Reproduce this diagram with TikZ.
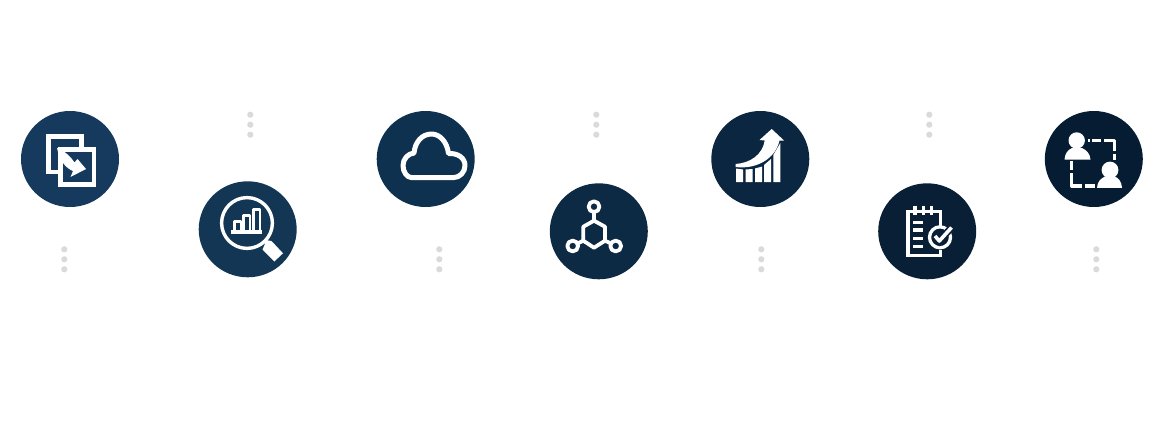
\documentclass[tikz,border=0pt]{standalone}
\usetikzlibrary{shapes.geometric}
\definecolor{navyA}{HTML}{153A5E}
\definecolor{navyB}{HTML}{133655}
\definecolor{navyC}{HTML}{0F3150}
\definecolor{navyD}{HTML}{0D2A45}
\definecolor{navyE}{HTML}{0B2640}
\definecolor{navyF}{HTML}{081F36}
\definecolor{navyG}{HTML}{061C32}
\definecolor{dotgray}{HTML}{DADADA}
\tikzset{
  badge/.style={ellipse,minimum width=98pt,minimum height=96pt,inner sep=0pt},
  dotmark/.style={circle,fill=dotgray,minimum size=6.2pt,inner sep=0pt},
  iconline/.style={draw=white,line width=#1,line join=round},
  iconfill/.style={fill=white},
}
\begin{document}
\begin{tikzpicture}[x=1pt,y=-1pt]
  \useasboundingbox (0,0) rectangle (1175,439);
  \node[badge,fill=navyA] (copy) at (70,159) {};
  \node[badge,fill=navyB] (search) at (247.7,229.3) {};
  \node[badge,fill=navyC] (cloud) at (425.7,159) {};
  \node[badge,fill=navyD] (molecule) at (598.8,231.3) {};
  \node[badge,fill=navyE] (growth) at (760.3,159) {};
  \node[badge,fill=navyF] (notes) at (927.2,231.3) {};
  \node[badge,fill=navyG] (people) at (1093.8,159) {};

  \foreach \name/\px/\py in {a/64.3/249.3,b/250.3/114.7,c/439.3/249.3,d/596.3/114.7,e/761.3/249.3,f/929.3/114.7,g/1096.3/249.3}
  {
    \node[dotmark] (\name1) at (\px,\py) {};
    \node[dotmark] (\name2) at (\px,\py+10) {};
    \node[dotmark] (\name3) at (\px,\py+20) {};
  }

  % copy
  \draw[iconline=4.6pt,line join=miter] (48.2,136.5) rectangle (81.3,172);
  \draw[iconline=4.6pt,line join=miter,fill=navyA] (60.5,149.2) rectangle (94,184.7);
  \fill[iconfill] (57,148) .. controls (65,151) and (71,157) .. (74.5,162.5) -- (77.5,159)
    -- (86,169) -- (70.5,177) -- (73,171) .. controls (66,168) and (60,162) .. (57,148) -- cycle;

  % search
  \draw[iconline=3.4pt] (247,223) circle (25.4);
  \draw[iconline=2.6pt] (234.3,231) -- (234.3,221.5) -- (241,221.5) -- (241,231);
  \draw[iconline=2.6pt] (243.7,231) -- (243.7,215.5) -- (250,215.5) -- (250,231);
  \draw[iconline=2.6pt] (253.3,231) -- (253.3,209.5) -- (260,209.5) -- (260,231);
  \fill[iconfill] (231,230) rectangle (261.7,234.2);
  \fill[iconfill] (265.5,240) -- (271.5,241) -- (283,253.3) -- (274.3,261.5) -- (262.5,249.5) -- (264.5,245) -- cycle;

  % cloud
  \draw[iconline=5pt] (412,177.7) -- (453,177.7) .. controls (460,177.7) and (465,172) .. (465,165.5)
    .. controls (465,158) and (458,153) .. (448.5,153.5) .. controls (447,142) and (440,134) .. (431.5,134)
    .. controls (422,134) and (415,142) .. (414,153) .. controls (408,153.5) and (403,159) .. (403,165.5)
    .. controls (403,172) and (407,177.7) .. (412,177.7) -- cycle;

  % molecule
  \draw[iconline=3.8pt] (594,220.7) -- (605,226.7) -- (605,240.7) -- (594,247.7) -- (583.3,240.7) -- (583.3,226.7) -- cycle;
  \draw[iconline=3.8pt] (594,206.7) circle (5.4);
  \draw[iconline=3.8pt] (572.7,246) circle (5.4);
  \draw[iconline=3.8pt] (615.7,246) circle (5.4);
  \draw[iconline=3.8pt] (594,212) -- (594,220.7);
  \draw[iconline=3.8pt] (583.3,240.7) -- (577.5,243.5);
  \draw[iconline=3.8pt] (605,240.7) -- (611,243.5);

  % growth
  \fill[iconfill] (771.7,129) -- (784,140.5) -- (779.5,140.5) .. controls (775,160) and (755,169.5) .. (735.5,167)
    -- (735.5,164) .. controls (750,163) and (762.5,155) .. (764.7,140.5) -- (759.5,140) -- cycle;
  \fill[iconfill] (736,168.5) -- (743,169.5) -- (743,182) -- (736,182) -- cycle;
  \fill[iconfill] (745.7,169.5) -- (752.7,169) -- (752.7,182) -- (745.7,182) -- cycle;
  \fill[iconfill] (755,168.5) -- (762.2,166.5) -- (762.2,182) -- (755,182) -- cycle;
  \fill[iconfill] (764,165) -- (771,159) -- (771,182) -- (764,182) -- cycle;
  \fill[iconfill] (773.3,155) -- (780.3,143) -- (780.3,182) -- (773.3,182) -- cycle;

  % notes
  \draw[iconline=3.3pt,line join=miter] (940.3,226) -- (940.3,211.7) -- (908,211.7) -- (908,255.3) -- (940.3,255.3) -- (940.3,249.5);
  \foreach \tx in {915,923.3,931.7}
    \draw[iconline=3.3pt] (\tx,205.5) -- (\tx,215);
  \foreach \ty in {222.3,230,238.3,246.7}
    \draw[iconline=3.3pt] (913.3,\ty) -- (923.3,\ty);
  \draw[iconline=3.3pt,fill=navyF] (940,237.3) circle (10.5);
  \draw[navyF,line width=7pt] (935,236) -- (939.3,241) -- (951.5,227.5);
  \draw[iconline=3.6pt] (935,236) -- (939.3,241) -- (951.5,227.5);

  % people
  \fill[iconfill] (1076.7,140.5) circle (8.2);
  \fill[iconfill] (1064.5,159.5) .. controls (1065,153) and (1068,150) .. (1072,148) -- (1082,148)
    .. controls (1086,150) and (1090,153) .. (1090.5,159.5) -- cycle;
  \fill[iconfill] (1110,170) circle (8.4);
  \fill[iconfill] (1097,187.8) .. controls (1097.5,181) and (1101,178.5) .. (1105,176.5) -- (1115,176.5)
    .. controls (1118.5,178.5) and (1121.5,181) .. (1122,187.8) -- cycle;
  \draw[iconline=3.2pt] (1087.8,140.7) -- (1090,140.7);
  \draw[iconline=3.2pt] (1092,140.7) -- (1101,140.7);
  \draw[iconline=3.2pt] (1104,140.7) -- (1114.5,140.7) -- (1114.5,151);
  \draw[iconline=3.2pt] (1114.5,154) -- (1114.5,159.5);
  \draw[iconline=3.2pt] (1071.7,161) -- (1071.7,170);
  \draw[iconline=3.2pt] (1071.7,173) -- (1071.7,186) -- (1082,186);
  \draw[iconline=3.2pt] (1085,186) -- (1095,186);
\end{tikzpicture}
\end{document}
